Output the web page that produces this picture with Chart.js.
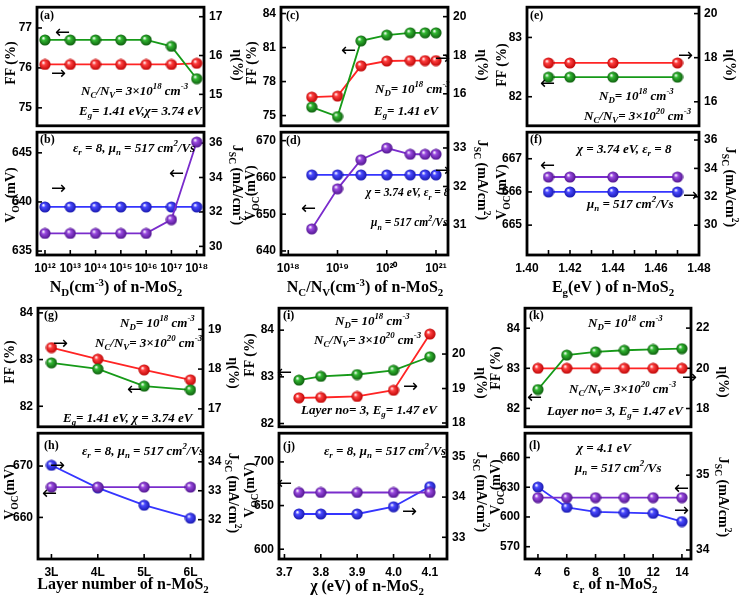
<!DOCTYPE html>
<html>
<head>
<meta charset="utf-8">
<title>n-MoS2 parameter sweeps</title>
<script src="https://cdn.jsdelivr.net/npm/chart.js@4.4.1/dist/chart.umd.min.js"></script>
<style>
  body { margin: 0; width: 740px; height: 604px; position: relative; overflow: hidden; background: #fff;
         font-family: "Liberation Serif", "Times New Roman", serif; }
  canvas { position: absolute; }
  .t { position: absolute; white-space: nowrap; font-weight: bold; color: #000; line-height: 1; }
  .t sub, .t sup { font-size: 68%; line-height: 0; }
  .ann { font-style: italic; font-size: 13px; transform: translateY(-50%); }
  .ann.sm { font-size: 11.5px; }
  .pl { font-size: 12px; transform: translateY(-50%); }
  .arr { font-family: "DejaVu Sans", sans-serif; font-weight: normal; font-size: 18px; transform: translateY(-50%); }
  .xt { font-size: 16px; transform: translate(-50%, -50%); }
  .yl { font-size: 14px; transform: translate(-50%, -50%) rotate(-90deg); }
  .yr { font-size: 14px; transform: translate(-50%, -50%) rotate(90deg); }
</style>
</head>
<body>
<script>
// ---- values ----
// (a)/(b) donor density N_D
const ndX = [1e12, 1e13, 1e14, 1e15, 1e16, 1e17, 1e18];
const ndFF = [76.7, 76.7, 76.7, 76.7, 76.7, 76.54, 75.73];
const ndEta = [15.77, 15.77, 15.77, 15.77, 15.77, 15.77, 15.8];
const ndVoc = [636.8, 636.8, 636.8, 636.8, 636.8, 638.2, 646.1];
const ndJsc = [32.29, 32.29, 32.29, 32.29, 32.29, 32.29, 32.29];

// (c)/(d) effective density of states N_C/N_V
const ncX = [3e18, 1e19, 3e19, 1e20, 3e20, 6e20, 1e21];
const ncFF = [75.75, 74.92, 81.59, 82.1, 82.3, 82.3, 82.3];
const ncEta = [15.83, 15.88, 17.45, 17.7, 17.72, 17.72, 17.72];
const ncVoc = [646.0, 656.9, 664.8, 668.0, 666.3, 666.3, 666.3];
const ncJsc = [32.3, 32.3, 32.3, 32.3, 32.3, 32.3, 32.3];

// (e)/(f) band gap E_g
const egX = [1.41, 1.42, 1.44, 1.47];
const egFF = [82.33, 82.33, 82.33, 82.33];
const egEta = [17.76, 17.76, 17.76, 17.76];
const egVoc = [666.45, 666.45, 666.45, 666.45];
const egJsc = [32.34, 32.34, 32.34, 32.34];

// (g)/(h) layer number
const layerX = [3, 4, 5, 6];
const layerFF = [82.93, 82.8, 82.43, 82.35];
const layerEta = [18.54, 18.25, 17.98, 17.73];
const layerVoc = [665.9, 665.9, 665.9, 665.9];
const layerJsc = [33.88, 33.1, 32.5, 32.05];

// (i)/(j) electron affinity chi
const chiX = [3.74, 3.8, 3.9, 4.0, 4.1];
const chiFF = [82.93, 83.01, 83.05, 83.14, 83.43];
const chiEta = [18.73, 18.74, 18.77, 18.95, 20.58];
const chiVoc = [665, 665, 665, 665, 665];
const chiJsc = [33.58, 33.58, 33.58, 33.76, 34.26];

// (k)/(l) relative permittivity eps_r
const epsX = [4, 6, 8, 10, 12, 14];
const epsFF = [82.47, 83.33, 83.41, 83.45, 83.47, 83.49];
const epsEta = [20, 20, 20, 20, 20, 20];
const epsVoc = [619.5, 619.5, 619.5, 619.5, 619.5, 619.5];
const epsJsc = [34.84, 34.57, 34.51, 34.5, 34.49, 34.38];

// tick values
const ndTicks = [1e12, 1e13, 1e14, 1e15, 1e16, 1e17, 1e18];
const ncTicks = [1e18, 1e19, 1e20, 1e21];
const egTicks = [1.40, 1.41, 1.42, 1.43, 1.44, 1.45, 1.46, 1.47, 1.48];
const layerTicks = [3, 4, 5, 6];
const chiTicks = [3.7, 3.8, 3.9, 4.0, 4.1];
const epsTicks = [4, 6, 8, 10, 12, 14];
const ffTicksA = [75, 76, 77], etaTicksA = [15, 16, 17];
const vocTicksB = [635, 640, 645], jscTicksB = [30, 32, 34, 36];
const ffTicksC = [75, 78, 81, 84], etaTicksC = [16, 18, 20];
const vocTicksD = [640, 650, 660, 670], jscTicksD = [31, 32, 33];
const ffTicksE = [82, 83], etaTicksE = [16, 18, 20];
const vocTicksF = [665, 666, 667], jscTicksF = [30, 32, 34, 36];
const ffTicksG = [82, 83, 84], etaTicksG = [17, 18, 19];
const vocTicksH = [660, 670], jscTicksH = [32, 33, 34];
const ffTicksI = [82, 83, 84], etaTicksI = [18, 19, 20];
const vocTicksJ = [600, 650, 700], jscTicksJ = [33, 34, 35];
const ffTicksK = [82, 83, 84], etaTicksK = [18, 20, 22];
const vocTicksL = [570, 600, 630, 660], jscTicksL = [34, 35];

// ---- drawing ----
function ballImage(mid, dark) {
  const c = document.createElement('canvas');
  c.width = c.height = 12;
  const g = c.getContext('2d');
  const grad = g.createRadialGradient(4.2, 4.0, 0.3, 6, 6, 6);
  grad.addColorStop(0, '#ffffff');
  grad.addColorStop(0.3, mid);
  grad.addColorStop(1, dark);
  g.fillStyle = grad;
  g.beginPath();
  g.arc(6, 6, 5.6, 0, Math.PI * 2);
  g.fill();
  return c;
}

const COLORS = {
  green:  { line: '#169a18', ball: ballImage('#33b833', '#0a560a') },
  red:    { line: '#ff2424', ball: ballImage('#ff4040', '#b80000') },
  blue:   { line: '#3535ff', ball: ballImage('#4a4aff', '#1414a8') },
  purple: { line: '#7a2ccc', ball: ballImage('#9a4ae0', '#4a1088') }
};

const SUP = { '0': '⁰', '1': '¹', '2': '²', '3': '³', '4': '⁴', '5': '⁵', '6': '⁶', '7': '⁷', '8': '⁸', '9': '⁹' };
const pow10 = v => '10' + String(Math.round(Math.log10(v))).split('').map(d => SUP[d]).join('');
const egLabel = v => (Math.round(v * 100) % 2 === 0 ? v.toFixed(2) : '');

// frame and inward tick marks
const framePlugin = {
  id: 'frame',
  beforeDatasetsDraw(chart) {
    const { ctx, chartArea: a, scales } = chart;
    ctx.save();
    ctx.strokeStyle = '#000';
    ctx.lineWidth = 1.6;
    Object.values(scales).forEach(s => {
      if (!s.options.display) return;
      s.ticks.forEach(t => {
        const p = s.getPixelForValue(t.value);
        ctx.beginPath();
        if (s.position === 'bottom') { ctx.moveTo(p, a.bottom); ctx.lineTo(p, a.bottom - 5); }
        else if (s.position === 'left') { ctx.moveTo(a.left, p); ctx.lineTo(a.left + 5, p); }
        else { ctx.moveTo(a.right, p); ctx.lineTo(a.right - 5, p); }
        ctx.stroke();
      });
    });
    ctx.lineWidth = 2.8;
    ctx.strokeRect(a.left, a.top, a.width, a.height);
    ctx.restore();
  }
};

const LW = 36, RW = 34, PT = 9, PB = 9, XH = 26;
const tickFont = { family: 'Liberation Sans', weight: 'bold', size: 12 };

function yScale(pos, s) {
  return {
    type: 'linear', position: pos, min: s.range[0], max: s.range[1],
    afterBuildTicks: sc => { sc.ticks = s.ticks.map(v => ({ value: v })); },
    afterFit: sc => { sc.width = pos === 'left' ? LW : RW; },
    grid: { display: false, drawTicks: false },
    border: { display: false },
    ticks: { font: tickFont, color: '#000', padding: 5, autoSkip: false }
  };
}

function series(xs, s, axis) {
  return {
    data: xs.map((x, i) => ({ x: x, y: s.data[i] })),
    xAxisID: 'x', yAxisID: axis,
    borderColor: COLORS[s.color].line, borderWidth: 1.8,
    pointStyle: COLORS[s.color].ball, pointRadius: 6,
    tension: 0, clip: false
  };
}

function makePanel(p) {
  const [l, t, r, b] = p.box;
  const c = document.createElement('canvas');
  c.width = r - l + LW + RW;
  c.height = b - t + PT + (p.showX ? XH : PB);
  c.style.left = (l - LW) + 'px';
  c.style.top = (t - PT) + 'px';
  document.body.appendChild(c);
  new Chart(c, {
    type: 'line',
    data: { datasets: [series(p.xs, p.left, 'yL'), series(p.xs, p.right, 'yR')] },
    options: {
      responsive: false, animation: false, devicePixelRatio: 1,
      layout: { padding: { top: PT, bottom: p.showX ? 0 : PB, left: 0, right: 0 } },
      plugins: { legend: { display: false }, tooltip: { enabled: false } },
      scales: {
        x: {
          type: p.xType, min: p.xRange[0], max: p.xRange[1], display: p.showX,
          afterBuildTicks: sc => { sc.ticks = p.xTicks.map(v => ({ value: v })); },
          afterFit: sc => { sc.height = p.showX ? XH : 0; },
          grid: { display: false, drawTicks: false },
          border: { display: false },
          ticks: { font: tickFont, color: '#000', padding: 6, autoSkip: false, maxRotation: 0, callback: p.xLabel }
        },
        yL: yScale('left', p.left),
        yR: yScale('right', p.right)
      }
    },
    plugins: [framePlugin]
  });
}

const R1 = [4, 129, 255], R2 = [305, 430, 559];
const C1 = [37, 204], C2 = [281, 448], C3 = [527, 699];
const C4 = [38, 203], C5 = [279, 447], C6 = [525, 691];

const panels = [
  { box: [C1[0], R1[0], C1[1], R1[1]], showX: false, xs: ndX, xType: 'logarithmic',
    xRange: [10 ** 11.684, 10 ** 18.289], xTicks: ndTicks, xLabel: pow10,
    left: { data: ndFF, color: 'green', range: [74.55, 77.52], ticks: ffTicksA },
    right: { data: ndEta, color: 'red', range: [14.19, 17.245], ticks: etaTicksA } },
  { box: [C1[0], R1[1], C1[1], R1[2]], showX: true, xs: ndX, xType: 'logarithmic',
    xRange: [10 ** 11.684, 10 ** 18.289], xTicks: ndTicks, xLabel: pow10,
    left: { data: ndVoc, color: 'purple', range: [634.6, 647.1], ticks: vocTicksB },
    right: { data: ndJsc, color: 'blue', range: [29.5, 36.63], ticks: jscTicksB } },
  { box: [C2[0], R1[0], C2[1], R1[1]], showX: false, xs: ncX, xType: 'logarithmic',
    xRange: [10 ** 17.852, 10 ** 21.244], xTicks: ncTicks, xLabel: pow10,
    left: { data: ncFF, color: 'green', range: [74.1, 84.56], ticks: ffTicksC },
    right: { data: ncEta, color: 'red', range: [14.34, 20.49], ticks: etaTicksC } },
  { box: [C2[0], R1[1], C2[1], R1[2]], showX: true, xs: ncX, xType: 'logarithmic',
    xRange: [10 ** 17.852, 10 ** 21.244], xTicks: ncTicks, xLabel: pow10,
    left: { data: ncVoc, color: 'purple', range: [638.9, 672.3], ticks: vocTicksD },
    right: { data: ncJsc, color: 'blue', range: [30.22, 33.41], ticks: jscTicksD } },
  { box: [C3[0], R1[0], C3[1], R1[1]], showX: false, xs: egX, xType: 'linear',
    xRange: [1.40, 1.48], xTicks: egTicks, xLabel: egLabel,
    left: { data: egFF, color: 'green', range: [81.51, 83.51], ticks: ffTicksE },
    right: { data: egEta, color: 'red', range: [14.91, 20.29], ticks: etaTicksE } },
  { box: [C3[0], R1[1], C3[1], R1[2]], showX: true, xs: egX, xType: 'linear',
    xRange: [1.40, 1.48], xTicks: egTicks, xLabel: egLabel,
    left: { data: egVoc, color: 'purple', range: [664.1, 667.8], ticks: vocTicksF },
    right: { data: egJsc, color: 'blue', range: [27.9, 36.55], ticks: jscTicksF } },
  { box: [C4[0], R2[0], C4[1], R2[1]], showX: false, xs: layerX, xType: 'linear',
    xRange: [2.71, 6.27], xTicks: layerTicks, xLabel: v => v + 'L',
    left: { data: layerFF, color: 'green', range: [81.56, 84.1], ticks: ffTicksG },
    right: { data: layerEta, color: 'red', range: [16.55, 19.53], ticks: etaTicksG } },
  { box: [C4[0], R2[1], C4[1], R2[2]], showX: true, xs: layerX, xType: 'linear',
    xRange: [2.71, 6.27], xTicks: layerTicks, xLabel: v => v + 'L',
    left: { data: layerVoc, color: 'purple', range: [651.9, 676.4], ticks: vocTicksH },
    right: { data: layerJsc, color: 'blue', range: [30.64, 34.99], ticks: jscTicksH } },
  { box: [C5[0], R2[0], C5[1], R2[1]], showX: false, xs: chiX, xType: 'linear',
    xRange: [3.685, 4.147], xTicks: chiTicks, xLabel: v => v.toFixed(1),
    left: { data: chiFF, color: 'green', range: [81.93, 84.47], ticks: ffTicksI },
    right: { data: chiEta, color: 'red', range: [17.89, 21.33], ticks: etaTicksI } },
  { box: [C5[0], R2[1], C5[1], R2[2]], showX: true, xs: chiX, xType: 'linear',
    xRange: [3.685, 4.147], xTicks: chiTicks, xLabel: v => v.toFixed(1),
    left: { data: chiVoc, color: 'purple', range: [588.8, 732.9], ticks: vocTicksJ },
    right: { data: chiJsc, color: 'blue', range: [32.46, 35.59], ticks: jscTicksJ } },
  { box: [C6[0], R2[0], C6[1], R2[1]], showX: false, xs: epsX, xType: 'linear',
    xRange: [3.1, 14.63], xTicks: epsTicks, xLabel: v => String(v),
    left: { data: epsFF, color: 'green', range: [81.54, 84.5], ticks: ffTicksK },
    right: { data: epsEta, color: 'red', range: [17.09, 22.99], ticks: etaTicksK } },
  { box: [C6[0], R2[1], C6[1], R2[2]], showX: true, xs: epsX, xType: 'linear',
    xRange: [3.1, 14.63], xTicks: epsTicks, xLabel: v => String(v),
    left: { data: epsVoc, color: 'purple', range: [557.6, 684.5], ticks: vocTicksL },
    right: { data: epsJsc, color: 'blue', range: [33.88, 35.56], ticks: jscTicksL } }
];

panels.forEach(makePanel);

// ---- text: titles, annotations, axis arrows ----
const NCNV18 = 'N<sub>C</sub>/N<sub>V</sub>= 3×10<sup>18</sup> cm<sup>-3</sup>';
const NCNV20 = 'N<sub>C</sub>/N<sub>V</sub>= 3×10<sup>20</sup> cm<sup>-3</sup>';
const ND18 = 'N<sub>D</sub>= 10<sup>18</sup> cm<sup>-3</sup>';
const EPSMU = 'ε<sub>r</sub> = 8, μ<sub>n</sub> = 517 cm<sup>2</sup>/Vs';
const MU = 'μ<sub>n</sub> = 517 cm<sup>2</sup>/Vs';
const CHIEPS = 'χ = 3.74 eV, ε<sub>r</sub> = 8';
const LAYER = 'Layer no= 3, E<sub>g</sub>= 1.47 eV';
const FF = 'FF (%)', ETA = 'η(%)', VOC = 'V<sub>OC</sub>(mV)', JSC = 'J<sub>SC</sub> (mA/cm<sup>2</sup>)';
const L = '←', Rt = '→';

const notes = [
  // column 1, top
  ['pl', '(a)', 40, 15], ['arr', L, 55, 32], ['arr', Rt, 51, 73],
  ['ann', NCNV18, 81, 90], ['ann', 'E<sub>g</sub>= 1.41 eV,χ= 3.74 eV', 79, 110],
  ['pl', '(b)', 40, 139], ['ann', EPSMU, 73, 147], ['arr', L, 169, 173], ['arr', Rt, 51, 188],
  ['xt', 'N<sub>D</sub>(cm<sup>-3</sup>) of n-MoS<sub>2</sub>', 116, 287],
  ['yl', FF, 11, 63], ['yl', VOC, 11, 195], ['yr', ETA, 237, 65], ['yr', JSC, 237, 185],
  // column 2, top
  ['pl', '(c)', 286, 15], ['arr', L, 341, 50], ['arr', Rt, 435, 58],
  ['ann', ND18, 375, 88], ['ann', 'E<sub>g</sub>= 1.41 eV', 374, 110],
  ['pl', '(d)', 286, 140], ['arr', Rt, 435, 170], ['ann sm', CHIEPS, 366, 193],
  ['arr', L, 301, 208], ['ann sm', MU, 371, 223],
  ['xt', 'N<sub>C</sub>/N<sub>V</sub>(cm<sup>-3</sup>) of n-MoS<sub>2</sub>', 365, 287],
  ['yl', FF, 252, 63], ['yl', VOC, 251, 193], ['yr', ETA, 482, 65], ['yr', JSC, 482, 180],
  // column 3, top
  ['pl', '(e)', 530, 15], ['arr', Rt, 678, 55], ['arr', L, 540, 83],
  ['ann', ND18, 599, 95], ['ann', NCNV20, 584, 115],
  ['pl', '(f)', 530, 139], ['ann', CHIEPS, 577, 148], ['arr', L, 540, 165],
  ['arr', Rt, 683, 195], ['ann', MU, 587, 203],
  ['xt', 'E<sub>g</sub>(eV ) of n-MoS<sub>2</sub>', 613, 287],
  ['yl', FF, 502, 65], ['yl', VOC, 502, 192], ['yr', ETA, 730, 65], ['yr', JSC, 730, 187],
  // column 1, bottom
  ['pl', '(g)', 44, 315], ['ann', ND18, 120, 322], ['ann', NCNV20, 95, 342],
  ['arr', Rt, 53, 343], ['arr', L, 127, 389], ['ann', 'E<sub>g</sub>= 1.41 eV, χ = 3.74 eV', 63, 417],
  ['pl', '(h)', 44, 445], ['ann', EPSMU, 82, 450], ['arr', Rt, 50, 465], ['arr', L, 42, 493],
  ['xt', 'Layer number of n-MoS<sub>2</sub>', 123, 584],
  ['yl', FF, 10, 362], ['yl', VOC, 10, 492], ['yr', ETA, 233, 373], ['yr', JSC, 233, 493],
  // column 2, bottom
  ['pl', '(i)', 283, 315], ['ann', ND18, 335, 320], ['ann', NCNV20, 314, 339],
  ['arr', L, 277, 372], ['arr', Rt, 403, 386], ['ann', LAYER, 301, 409],
  ['pl', '(j)', 283, 446], ['ann', EPSMU, 324, 450], ['arr', L, 277, 483], ['arr', Rt, 402, 511],
  ['xt', 'χ (eV) of n-MoS<sub>2</sub>', 367, 586],
  ['yl', FF, 250, 355], ['yl', VOC, 250, 490], ['yr', ETA, 481, 383], ['yr', JSC, 481, 492],
  // column 3, bottom
  ['pl', '(k)', 529, 315], ['ann', ND18, 588, 322], ['arr', Rt, 682, 377],
  ['ann', NCNV20, 569, 388], ['arr', L, 527, 397], ['ann', LAYER, 547, 410],
  ['pl', '(l)', 529, 445], ['ann', 'χ = 4.1 eV', 577, 447], ['ann', MU, 575, 467],
  ['arr', L, 674, 488], ['arr', Rt, 674, 510],
  ['xt', 'ε<sub>r</sub> of n-MoS<sub>2</sub>', 615, 584],
  ['yl', FF, 496, 368], ['yl', VOC, 496, 487], ['yr', ETA, 723, 382], ['yr', JSC, 723, 497]
];

notes.forEach(([cls, html, x, y]) => {
  const d = document.createElement('div');
  d.className = 't ' + cls;
  d.innerHTML = html;
  d.style.left = x + 'px';
  d.style.top = y + 'px';
  document.body.appendChild(d);
});
</script>
</body>
</html>
